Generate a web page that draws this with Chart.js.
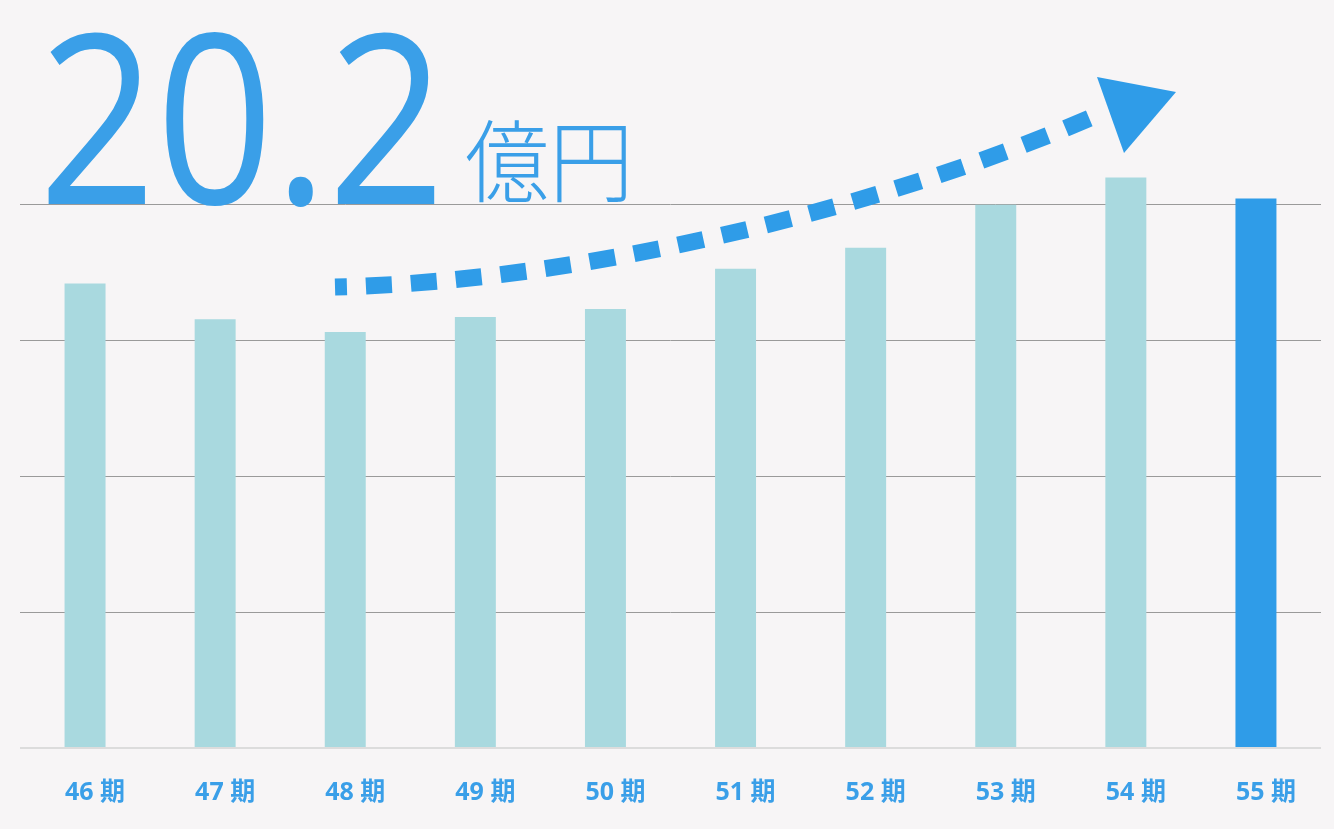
<!DOCTYPE html>
<html lang="ja">
<head>
<meta charset="utf-8">
<script src="https://cdn.jsdelivr.net/npm/chart.js@4/dist/chart.umd.min.js"></script>
<style>
    html, body { margin: 0; padding: 0; background: #f7f5f6; }
    #wrap { width: 1334px; height: 829px; position: relative; }
</style>
</head>
<body>
<div id="wrap"><canvas id="sales-chart"></canvas></div>
<script>
    // 売上高の推移 (億円)
    const periods = ['46 期', '47 期', '48 期', '49 期', '50 期', '51 期', '52 期', '53 期', '54 期', '55 期'];
    const sales = [17.08, 15.76, 15.29, 15.85, 16.14, 17.62, 18.39, 19.97, 20.97, 20.2];
    const gridValues = [0, 5, 10, 15, 20];
    const headline = '20.2';
    const headlineUnit = '億円';

    const blue = '#2f9ce8';
    const textBlue = '#3a9fe8';
    const lightBar = '#a9d9df';

    const barColors = sales.map((v, i) => i === sales.length - 1 ? blue : lightBar);

    // fit text into a box by scaling it horizontally
    function drawFitted(ctx, text, font, left, right, baseline) {
        ctx.save();
        ctx.font = font;
        const m = ctx.measureText(text);
        const inkW = m.actualBoundingBoxLeft + m.actualBoundingBoxRight;
        const sx = (right - left) / inkW;
        ctx.translate(left, baseline);
        ctx.scale(sx, 1);
        ctx.fillText(text, m.actualBoundingBoxLeft, 0);
        ctx.restore();
    }

    const decorPlugin = {
        id: 'decor',
        afterDatasetsDraw(chart) {
            const ctx = chart.ctx;
            ctx.save();
            ctx.fillStyle = textBlue;
            ctx.textBaseline = 'alphabetic';
            drawFitted(ctx, headline, '400 236px "Open Sans"', 48, 435, 204);
            drawFitted(ctx, headlineUnit, '300 90px "Noto Sans CJK JP"', 466, 626, 195);

            // dotted trend arrow
            ctx.strokeStyle = blue;
            ctx.lineWidth = 17;
            ctx.lineCap = 'butt';
            ctx.setLineDash([26, 19]);
            ctx.lineDashOffset = 14;
            ctx.beginPath();
            ctx.moveTo(335, 287);
            ctx.bezierCurveTo(600, 281, 900, 200, 1090, 118);
            ctx.stroke();
            ctx.setLineDash([]);

            ctx.fillStyle = blue;
            ctx.beginPath();
            ctx.moveTo(1097, 77);
            ctx.lineTo(1176, 92);
            ctx.lineTo(1124, 153);
            ctx.closePath();
            ctx.fill();
            ctx.restore();
        }
    };

    const chartCanvas = document.getElementById('sales-chart');
    new Chart(chartCanvas, {
        type: 'bar',
        data: {
            labels: periods,
            datasets: [{
                data: sales,
                backgroundColor: barColors,
                borderWidth: 0,
                barPercentage: 0.315,
                categoryPercentage: 1,
                clip: false
            }]
        },
        options: {
            responsive: true,
            maintainAspectRatio: false,
            animation: false,
            layout: {
                padding: { top: 204, left: 20, right: 13, bottom: -9 }
            },
            plugins: {
                legend: { display: false },
                tooltip: { enabled: false }
            },
            scales: {
                x: {
                    grid: { display: false, drawTicks: false },
                    border: { display: false },
                    ticks: {
                        color: textBlue,
                        padding: 30,
                        labelOffset: 10,
                        font: { family: '"Open Sans", "Noto Sans CJK JP"', size: 25, weight: 'bold' }
                    }
                },
                y: {
                    min: 0,
                    max: 20,
                    afterBuildTicks: axis => {
                        axis.ticks = gridValues.map(v => ({ value: v }));
                    },
                    border: { display: false },
                    grid: {
                        drawTicks: false,
                        color: ctx => ctx.tick && ctx.tick.value === 0 ? '#dcdcdc' : '#9a9a9a',
                        lineWidth: ctx => ctx.tick && ctx.tick.value === 0 ? 2 : 1
                    },
                    ticks: { display: false }
                }
            }
        },
        plugins: [decorPlugin]
    });
</script>
</body>
</html>
